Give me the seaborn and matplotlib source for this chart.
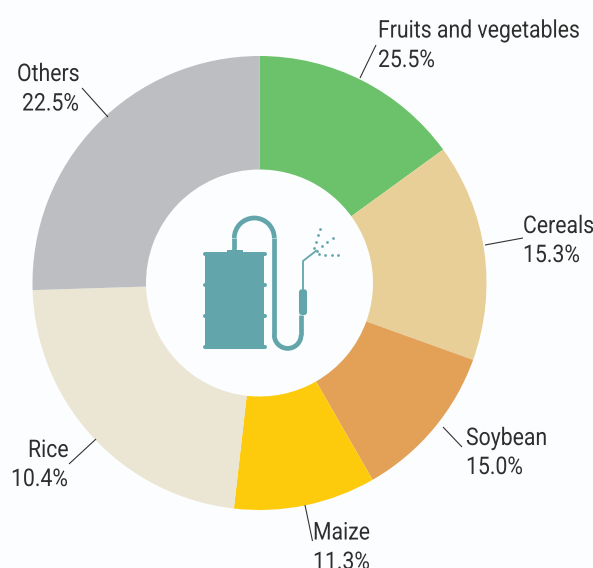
import seaborn as sns
import matplotlib
matplotlib.use("Agg")
import matplotlib.pyplot as plt
import matplotlib.patheffects as pe
from matplotlib.patches import FancyBboxPatch, Rectangle, Arc
from matplotlib.transforms import Affine2D

# slice values (angles), clockwise from 12 o'clock
slice_values = [15.0, 15.5, 11.2, 10.1, 22.7, 25.5]
slice_colors = ["#6cc26a", "#e8cf98", "#e2a157", "#fecb0c", "#ebe6d3", "#bcbec1"]

# printed labels, they do not follow the slice order in the source
label_names = ["Fruits and vegetables", "Cereals", "Soybean", "Maize", "Rice", "Others"]
label_pcts = ["25.5%", "15.3%", "15.0%", "11.3%", "10.4%", "22.5%"]

bg = "#fcfdfe"
ink = "#2e2e2e"
teal = "#62a6ab"
W, H = 593, 568

sns.set_theme(style="white")
plt.rcParams["font.family"] = ["Roboto", "DejaVu Sans"]


class Condensed(pe.AbstractPathEffect):
    # no Roboto Condensed here, so squeeze the glyphs sideways
    def __init__(self, sx):
        super().__init__()
        self.sx = sx

    def draw_path(self, renderer, gc, tpath, affine, rgbFace=None):
        renderer.draw_path(gc, tpath, Affine2D().scale(self.sx, 1) + affine, rgbFace)


def py(y):
    # picture y (down) to axes y (up)
    return H - y


fig = plt.figure(figsize=(W / 100, H / 100), dpi=100, facecolor=bg)
ax = fig.add_axes([0, 0, 1, 1])
ax.set_facecolor(bg)

ax.pie(slice_values, colors=slice_colors, startangle=90, counterclock=False,
       center=(259.5, py(283)), radius=227,
       wedgeprops={"width": 113.5, "linewidth": 0})
ax.set_xlim(0, W)
ax.set_ylim(0, H)
ax.set_aspect("equal")
ax.axis("off")

# name x, name baseline, pct x, pct baseline
label_pos = [(378, 37.5, 378, 67), (523, 233, 523, 262), (466, 445, 466, 474),
             (313, 539.5, 313, 569), (28, 457, 11, 486), (17, 81, 22, 110.5)]
leaders = [((376, 45), (360, 78)), ((523, 238), (485, 245)), ((462, 447), (443, 427)),
           ((312.5, 541), (305, 505)), ((69, 464), (96, 439)), ((82, 88), (108, 117))]

squeeze = [Condensed(0.873)]
for name, pct, (x1, y1, x2, y2) in zip(label_names, label_pcts, label_pos):
    ax.text(x1, py(y1), name, ha="left", va="baseline", fontsize=17.5, color=ink, path_effects=squeeze)
    ax.text(x2, py(y2), pct, ha="left", va="baseline", fontsize=17.5, color=ink, path_effects=squeeze)

for (x0, y0), (x1, y1) in leaders:
    ax.plot([x0, x1], [py(y0), py(y1)], color="#333333", lw=0.8, solid_capstyle="butt")

# sprayer icon in the hole
ax.add_patch(Rectangle((205, py(348)), 59, 95, fc=teal, ec="none"))
ax.add_patch(Rectangle((226.7, py(253.5)), 16, 4, fc=teal, ec="none"))
for y in [254, 285, 316, 347]:
    ax.plot([204.5, 264.5], [py(y), py(y)], color=teal, lw=2.9, solid_capstyle="round")

hose_lw = 3.4
ax.plot([234.3, 234.3], [py(250), py(238)], color=teal, lw=hose_lw, solid_capstyle="butt")
ax.add_patch(Arc((254.3, py(238)), 40, 40, theta1=0, theta2=180, color=teal, lw=hose_lw))
ax.plot([274.3, 274.3], [py(238), py(335)], color=teal, lw=hose_lw, solid_capstyle="butt")
ax.add_patch(Arc((287.7, py(335)), 26.8, 26.8, theta1=180, theta2=360, color=teal, lw=hose_lw))
ax.plot([301, 301], [py(335), py(315)], color=teal, lw=hose_lw, solid_capstyle="butt")

ax.add_patch(FancyBboxPatch((300.5, py(313.5)), 5, 22.7, boxstyle="round,pad=0,rounding_size=1.5",
                            fc=teal, ec=teal, lw=2.2))
ax.plot([303, 303, 316.5], [py(290), py(261), py(250.5)], color=teal, lw=1.3)

spray_x = [319.7, 317.7, 332.7, 316, 327.3, 322.3, 314, 317.3, 318.7, 325.3, 332, 338.3]
spray_y = [229.3, 235.3, 238, 241.7, 242.3, 246.3, 248, 250.7, 254.3, 255, 255, 255]
ax.scatter(spray_x, [py(v) for v in spray_y], s=4, color=teal, linewidths=0)

fig.savefig("out.png", dpi=100, facecolor=bg)
